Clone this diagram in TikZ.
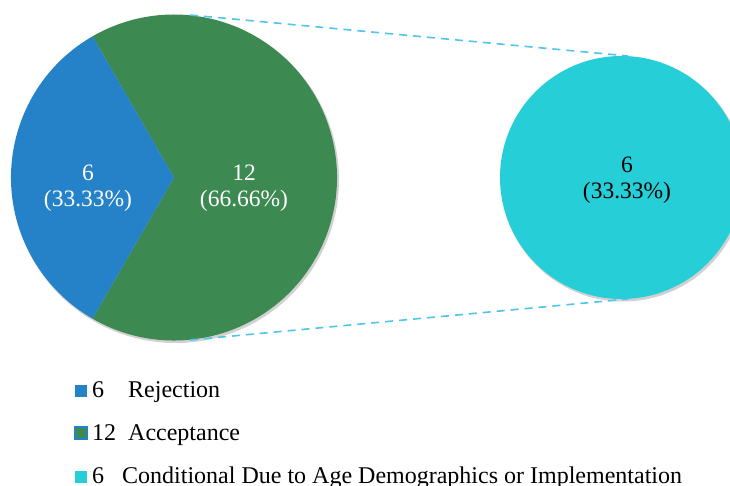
\documentclass[tikz,border=0pt]{standalone}
\usepackage{fontspec}
\setmainfont{Liberation Serif}
\definecolor{rejblue}{RGB}{38,130,200}
\definecolor{accgreen}{RGB}{61,137,82}
\definecolor{condcyan}{RGB}{38,206,216}
\definecolor{zoomline}{RGB}{80,196,234}
\tikzset{
  slicelabel/.style={align=center,font=\fontsize{23.5}{25.5}\selectfont},
  legendkey/.style={minimum size=12pt,inner sep=0pt},
  legendtext/.style={anchor=base west,inner sep=0pt,font=\fontsize{24}{26}\selectfont},
  zoomdash/.style={draw=zoomline,line width=1.6pt,dash pattern=on 8pt off 6pt}
}
\begin{document}
\begin{tikzpicture}
\begin{scope}[x=1pt,y=1pt]
\useasboundingbox (0,0) rectangle (730,486);
\clip (0,0) rectangle (730,486);

% shadows
\path[fill=black,opacity=0.18] (175.5,306.5) circle (163.5);
\path[fill=black,opacity=0.18] (623,306.5) circle (122);

% main pie
\path[fill=accgreen] (174,308.5) -- ++(-120:163) arc (-120:120:163) -- cycle;
\path[fill=rejblue] (174,308.5) -- ++(120:163) arc (120:240:163) -- cycle;

% detail pie
\path[fill=condcyan] (621.5,308.5) circle (121.5);

% zoom lines
\coordinate (bigtop) at (190,471);
\coordinate (bigbot) at (190,146);
\coordinate (smalltop) at (628,430);
\coordinate (smallbot) at (628,187);
\draw[zoomdash] (bigtop) -- (smalltop);
\draw[zoomdash] (bigbot) -- (smallbot);

\node[slicelabel,text=white] (rejlabel) at (88,298) {6\\(33.33\%)};
\node[slicelabel,text=white] (acclabel) at (244,298) {12\\(66.66\%)};
\node[slicelabel] (condlabel) at (627,306) {6\\(33.33\%)};

% legend
\node[legendkey,fill=rejblue] (key1) at (81,95) {};
\node[legendkey,fill=accgreen,draw=rejblue,line width=1.5pt] (key2) at (81,53) {};
\node[legendkey,fill=condcyan] (key3) at (81,9) {};
\node[legendtext] (num1) at (92,88) {6};
\node[legendtext] (num2) at (92,45) {12};
\node[legendtext] (num3) at (92,2.5) {6};
\node[legendtext] (txt1) at (128,88) {Rejection};
\node[legendtext] (txt2) at (128,45) {Acceptance};
\node[legendtext] (txt3) at (122,2.5) {Conditional Due to Age Demographics or Implementation};

\end{scope}
\end{tikzpicture}
\end{document}
